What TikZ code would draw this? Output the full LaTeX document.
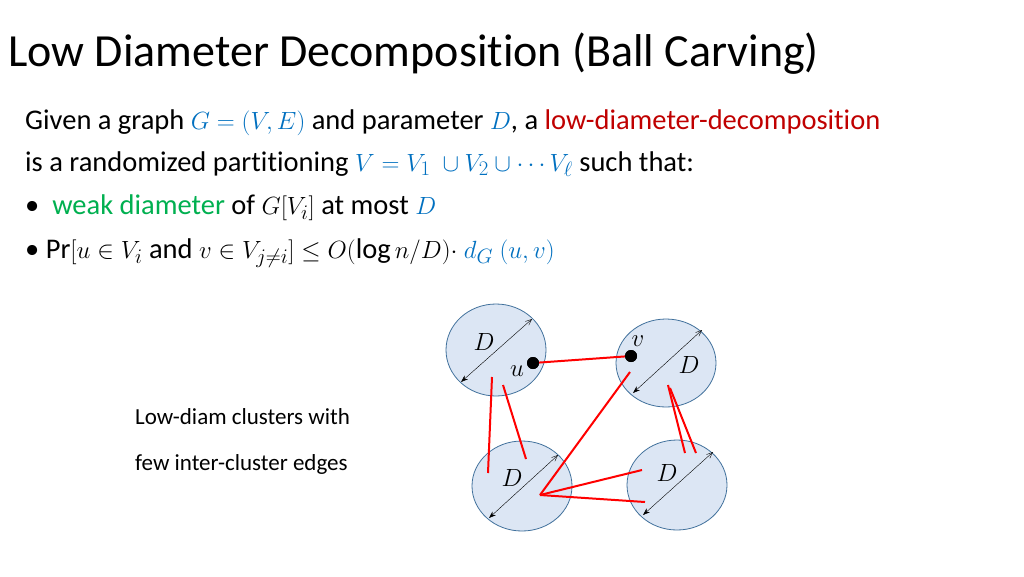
\documentclass[tikz,border=0pt]{standalone}
\usepackage{amsmath,amssymb}
\usepackage{fontspec}
\setmainfont[Ligatures=NoCommon]{Carlito}
\usetikzlibrary{arrows.meta}
\definecolor{mblue}{HTML}{0070C0}
\definecolor{mred}{HTML}{C00000}
\definecolor{mgreen}{HTML}{00B050}
\definecolor{cfill}{HTML}{DCE6F4}
\definecolor{cedge}{HTML}{41719C}
\begin{document}
\begin{tikzpicture}[x=1pt,y=-1pt,
  cluster/.style={draw=cedge,fill=cfill,line width=0.8pt},
  diam/.style={black,line width=0.4pt,{Stealth[length=7pt,width=5pt]}-{Straight Barb[length=6pt,width=5pt]}},
  edge/.style={red,line width=2pt},
  dot/.style={circle,fill=black,inner sep=0pt,minimum size=12pt},
  txt/.style={anchor=base west,inner sep=0pt,font=\fontsize{28.5}{32}\selectfont},
  lab/.style={font=\fontsize{28}{32}\selectfont,inner sep=0pt}]
\useasboundingbox (0,0) rectangle (1024,576);
\fill[white] (0,0) rectangle (1024,576);
\node[anchor=base west,inner sep=0pt,font=\fontsize{46}{52}\selectfont] (title) at (8,66) {Low Diameter Decomposition (Ball Carving)};
\node[txt] (l1) at (25,129) {Given a graph \textcolor{mblue}{$G=(V,E)$} and parameter \textcolor{mblue}{$D$}, a \textcolor{mred}{low-diameter-decomposition}};
\node[txt] (l2) at (25,171) {is a randomized partitioning \textcolor{mblue}{$V=V_1\ \cup V_2\cup\cdots V_\ell$} such that:};
\node[txt] (l3) at (25,214) {\textbullet\ \ \textcolor{mgreen}{weak diameter} of $G[V_i]$ at most \textcolor{mblue}{$D$}};
\node[txt] (l4) at (25,258) {\textbullet\ $\Pr[u\in V_i$ and $v\in V_{j\neq i}]\le O(\log n/D)\cdot$ \textcolor{mblue}{$d_G\ (u,v)$}};
\node[anchor=base west,inner sep=0pt,font=\fontsize{23}{27}\selectfont] (c1) at (135,424) {Low-diam clusters with};
\node[anchor=base west,inner sep=0pt,font=\fontsize{23}{27}\selectfont] (c2) at (135,470) {few inter-cluster edges};
% clusters
\draw[cluster] (496,350) ellipse [x radius=50,y radius=46];
\draw[cluster] (666,363) ellipse [x radius=50,y radius=44];
\draw[cluster] (522,486) ellipse [x radius=50,y radius=45];
\draw[cluster] (677,485) ellipse [x radius=50,y radius=45];
\coordinate (a1) at (461,382); \coordinate (b1) at (532,319);
\coordinate (a2) at (633,393); \coordinate (b2) at (702,330);
\coordinate (a3) at (489,518); \coordinate (b3) at (558,455);
\coordinate (a4) at (643,515); \coordinate (b4) at (713,452);
\draw[diam] (a1) -- (b1);
\draw[diam] (a2) -- (b2);
\draw[diam] (a3) -- (b3);
\draw[diam] (a4) -- (b4);
\node[lab] (d1) at (484,342) {$D$};
\node[lab] (d2) at (689,365) {$D$};
\node[lab] (d3) at (512,478) {$D$};
\node[lab] (d4) at (667,473) {$D$};
% edges
\coordinate (p1) at (492,377); \coordinate (q1) at (488,473);
\coordinate (p2) at (503,385); \coordinate (q2) at (526,459);
\coordinate (p3) at (630,372); \coordinate (hub) at (540,495);
\coordinate (q4) at (642,470); \coordinate (q5) at (645,502);
\coordinate (p6) at (668,385); \coordinate (q6) at (685,453);
\coordinate (p7) at (670,388); \coordinate (q7) at (696,453);
\node[dot] (u) at (533,363) {};
\node[dot] (v) at (631,356) {};
\draw[edge] (u) -- (v);
\draw[edge] (p1) -- (q1);
\draw[edge] (p2) -- (q2);
\draw[edge] (p3) -- (hub);
\draw[edge] (hub) -- (q4);
\draw[edge] (hub) -- (q5);
\draw[edge] (p6) -- (q6);
\draw[edge] (p7) -- (q7);
\node[dot] at (533,363) {};
\node[dot] at (631,356) {};
\node[lab] (ul) at (517,371) {$u$};
\node[lab] (vl) at (638,341) {$v$};
\end{tikzpicture}
\end{document}
